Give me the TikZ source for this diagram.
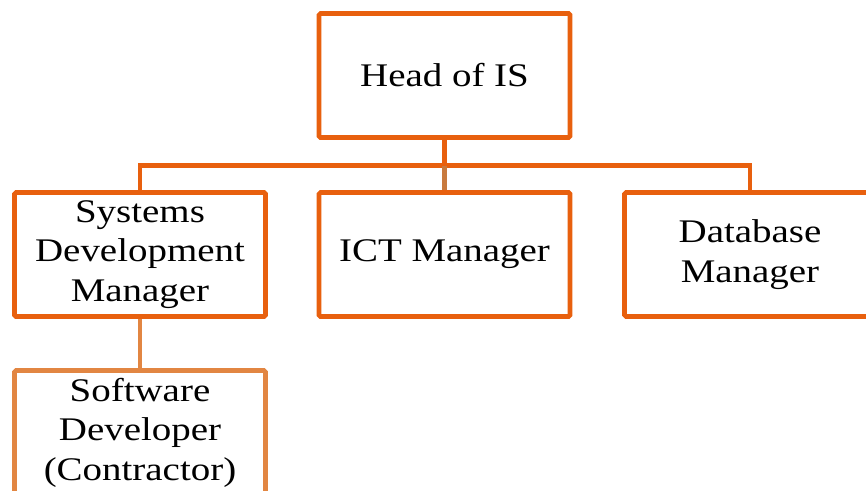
\documentclass[tikz,border=0pt]{standalone}
\usepackage{fontspec}
\setmainfont{Liberation Serif}[FakeStretch=1.18]
\definecolor{mainor}{RGB}{232,96,14}
\definecolor{lightor}{RGB}{226,134,66}
\definecolor{brownor}{RGB}{200,122,62}
\begin{document}
\begin{tikzpicture}[x=1pt,y=-1pt,
  box/.style={draw=mainor, line width=4.6pt, rounded corners=1.5pt, fill=white,
    minimum width=251pt, minimum height=124pt, align=center, inner sep=0pt,
    font=\fontsize{33}{39.5}\selectfont},
  conn/.style={draw=mainor, line width=4.6pt}]
\useasboundingbox (0,0) rectangle (866,490);
\begin{scope}
\clip (0,0) rectangle (866,490);
\coordinate (j) at (444.5,165.5);
\node[box] (head) at (444.5,75.5) {Head of IS};
\node[box] (sdm) at (140,254.5) {Systems\\Development\\Manager};
\node[box] (ict) at (444.5,254.5) {ICT Manager};
\node[box] (dbm) at (750,254.5) {Database\\Manager};
\node[box, draw=lightor] (sd) at (140,432.5) {Software\\Developer\\(Contractor)};
\draw[conn] (head.south) -- (j);
\draw[conn] (j) -| (sdm.north);
\draw[conn] (j) -| (dbm.north);
\draw[conn, draw=brownor] (j) -- (ict.north);
\draw[conn, draw=lightor] (sdm.south) -- (sd.north);
\end{scope}
\end{tikzpicture}
\end{document}
